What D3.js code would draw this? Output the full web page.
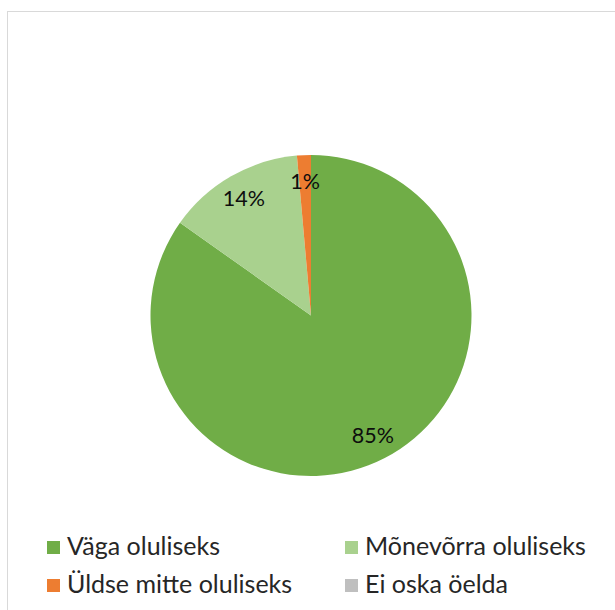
<!DOCTYPE html>
<html>
<head>
<meta charset="utf-8">
<script src="https://cdn.jsdelivr.net/npm/d3@7"></script>
<style>
  html, body { margin: 0; padding: 0; background: #fff; }
  svg { display: block; }
</style>
</head>
<body>
<svg id="chart" width="615" height="610"></svg>
<script>
const categories = ["Väga oluliseks", "Mõnevõrra oluliseks", "Üldse mitte oluliseks", "Ei oska öelda"];
const values = [84.8, 13.8, 1.4, 0];
const colors = ["#70AD47", "#A9D18E", "#ED7D31", "#BFBFBF"];

const svg = d3.select("#chart");

// chart border
svg.append("rect")
  .attr("x", 7.5).attr("y", 11.5)
  .attr("width", 640).attr("height", 640)
  .attr("fill", "#fff")
  .attr("stroke", "#D9D9D9").attr("stroke-width", 1);

const cx = 311, cy = 315.5, r = 160.5;
const data = categories.map((c, i) => ({ cat: c, value: values[i], color: colors[i] }));

const pie = d3.pie().sort(null).value(d => d.value);
const arc = d3.arc().innerRadius(0).outerRadius(r);
const labelArc = d3.arc().innerRadius(r * 0.84).outerRadius(r * 0.84);

const g = svg.append("g").attr("transform", `translate(${cx},${cy})`);
const arcs = pie(data);

g.selectAll("path.slice")
  .data(arcs)
  .join("path")
  .attr("class", "slice")
  .attr("d", arc)
  .attr("fill", d => d.data.color);

g.selectAll("text.lbl")
  .data(arcs.filter(d => d.data.value > 0))
  .join("text")
  .attr("class", "lbl")
  .attr("transform", d => `translate(${labelArc.centroid(d)})`)
  .attr("text-anchor", "middle")
  .attr("dy", "0.36em")
  .attr("font-family", "Lato, Liberation Sans, Arial, sans-serif")
  .attr("font-size", 21.5)
  .attr("fill", "#0d0d0d")
  .text(d => Math.round(d.data.value) + "%");

// legend
const legX = [47, 345], legY = [541, 579], sq = 13;
const leg = svg.append("g");
data.forEach((d, i) => {
  const col = i % 2, row = Math.floor(i / 2);
  leg.append("rect")
    .attr("x", legX[col]).attr("y", legY[row])
    .attr("width", sq).attr("height", sq)
    .attr("fill", d.color);
  leg.append("text")
    .attr("x", legX[col] + 20).attr("y", legY[row] + 14)
    .attr("font-family", "Lato, Liberation Sans, Arial, sans-serif")
    .attr("font-size", 25)
    .attr("fill", "#262626")
    .text(d.cat);
});
</script>
</body>
</html>
